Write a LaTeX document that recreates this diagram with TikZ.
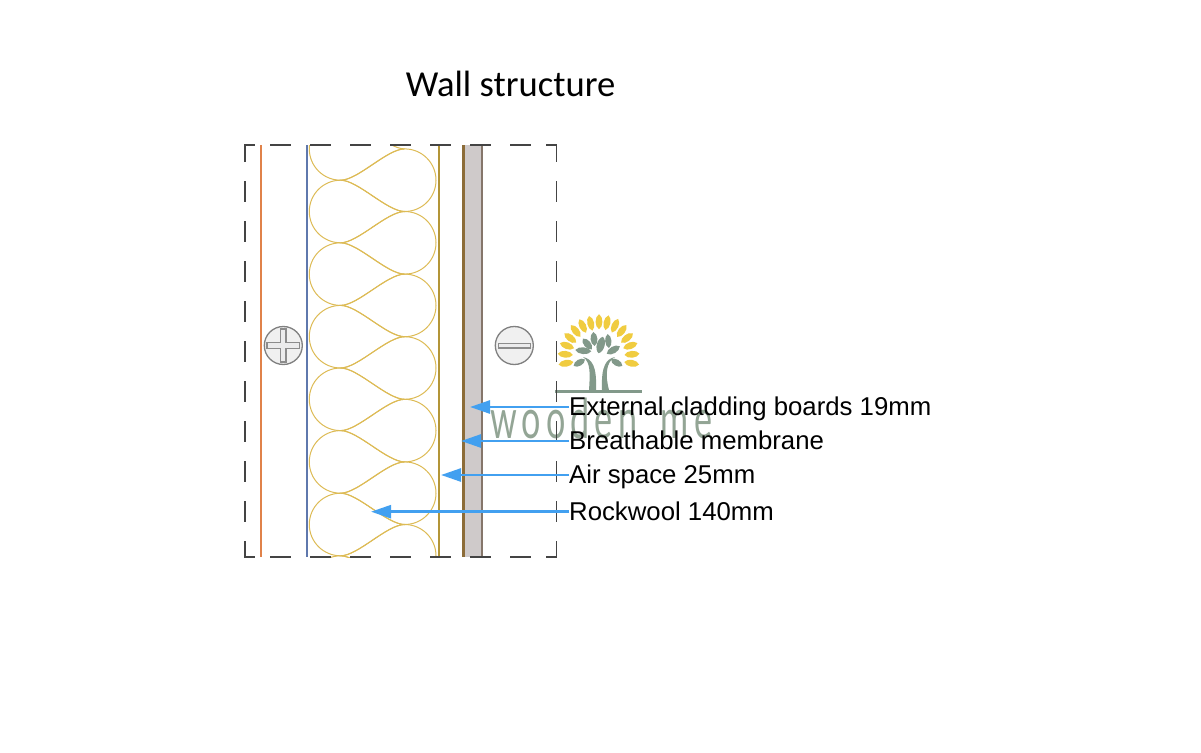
\documentclass[tikz,border=0pt]{standalone}
\usepackage{fontspec}
\setmainfont{Liberation Sans}
\newfontfamily\titlefont{Carlito}
\newfontfamily\markfont[LetterSpace=15]{Lato}
\usetikzlibrary{arrows.meta}
\definecolor{sunleaf}{HTML}{F0CC40}
\definecolor{sage}{HTML}{82998A}
\definecolor{markgreen}{HTML}{93A595}
\definecolor{wool}{HTML}{DDBB55}
\definecolor{callout}{HTML}{42A0F0}
\definecolor{boxline}{HTML}{444444}
\definecolor{plaster}{HTML}{E0824A}
\definecolor{vapour}{HTML}{5F78AD}
\definecolor{woolface}{HTML}{B39538}
\definecolor{membrane}{HTML}{8C6C38}
\definecolor{boardface}{HTML}{85766A}
\definecolor{board}{HTML}{CFCACA}
\newcommand{\lf}[6]{\fill[#6,shift={(#1,#2)},rotate=#3] (-#4/2,0) .. controls (-#4/3,#5*0.7) and (#4/3,#5*0.7) .. (#4/2,0) .. controls (#4/3,-#5*0.7) and (-#4/3,-#5*0.7) .. (-#4/2,0) -- cycle;}
\tikzset{
  x=1pt,y=-1pt,
  boxdash/.style={draw=boxline,line width=1.5pt},
  layer/.style={line width=2pt},
  screw/.style={draw=black!50,fill=black!6,line width=1.3pt},
  slot/.style={draw=black!45,fill=blue!8!black!8,line width=1.2pt},
  label/.style={font=\fontsize{25.75pt}{27pt}\selectfont,anchor=west,inner sep=0pt,text height=17.5pt,text depth=0pt},
  callarrow/.style={draw=callout,line width=2.6pt,-{Triangle[length=20pt,width=13pt]}}
}
\begin{document}
\begin{tikzpicture}
\useasboundingbox (0,0) rectangle (1201,752);
\fill[white] (0,0) rectangle (1201,752);
% title
\node[anchor=base,inner sep=0pt,font=\titlefont\fontsize{36.6pt}{38pt}\selectfont] (title) at (510.5,96) {Wall structure};
% layers
\fill[board] (465,145) rectangle (482,557);
\draw[layer,draw=plaster] (261,145) -- (261,557);
\draw[layer,draw=vapour] (306.7,145) -- (306.7,557);
\draw[layer,draw=woolface] (438.7,145) -- (438.7,557);
\draw[draw=membrane,line width=3.5pt] (463.7,145) -- (463.7,557);
\draw[draw=boardface,line width=2pt] (482,145) -- (482,557);
% insulation
\begin{scope}
\clip (245,145) rectangle (557,557);
\foreach \yl in {117.6,180.2,242.8,305.4,368,430.6,493.2,555.8} {
  \pgfmathsetmacro{\yb}{\yl+62.6}
  \pgfmathsetmacro{\ym}{\yl+31.3}
  % left-hand teardrop
  \draw[wool,line width=1pt] (404.7,\ym) .. controls (387,\ym) and (358,\yl) .. (340.6,\yl)
     .. controls (323.3,\yl) and (309.3,\ym-17.3) .. (309.3,\ym)
     .. controls (309.3,\ym+17.3) and (323.3,\yb) .. (340.6,\yb)
     .. controls (358,\yb) and (387,\ym) .. (404.7,\ym);
  % right-hand teardrop
  \draw[wool,line width=1pt] (340.6,\yb) .. controls (358,\yb) and (387,\ym) .. (404.7,\ym)
     .. controls (422,\ym) and (436,\yb-17.3) .. (436,\yb)
     .. controls (436,\yb+17.3) and (422,\yb+31.3) .. (404.7,\yb+31.3)
     .. controls (387,\yb+31.3) and (358,\yb) .. (340.6,\yb);
}
\end{scope}
% screws
\draw[screw] (283.3,345.5) circle (19);
\draw[slot] (280.6,329) -- (286,329) -- (286,342.8) -- (299.5,342.8) -- (299.5,348.2) -- (286,348.2) -- (286,362) -- (280.6,362) -- (280.6,348.2) -- (267,348.2) -- (267,342.8) -- (280.6,342.8) -- cycle;
\draw[screw] (514.3,345.5) circle (19);
\draw[slot] (498.5,343.5) rectangle (530.5,348);
% logo
\foreach \a/\b/\c in {599/321.7/90,590.7/323.3/103,607/322.7/78,582.7/326/116,615/325.7/65,575.7/331/129,621.7/331/52,570.3/338/142,627/338/38,567/345.7/160,630.3/345.7/20,565.3/354.3/175,632/354.3/5,566/363.3/190,631.7/363.3/-10} {
  \lf{\a}{\b}{\c}{15}{6.5}{sunleaf}
}
\lf{594}{339}{95}{14}{6.5}{sage}
\lf{600.7}{345}{75}{17}{7.5}{sage}
\lf{608.3}{341}{95}{14}{6}{sage}
\lf{587.3}{344}{130}{14}{6.5}{sage}
\lf{613.3}{350}{30}{15}{6.5}{sage}
\lf{583.3}{350.7}{175}{16}{6.5}{sage}
\lf{579.3}{362.7}{30}{13}{6}{sage}
\lf{616.7}{362.7}{150}{13}{6}{sage}
\fill[sage] (555,389.5) rectangle (641.7,392.5);
\fill[sage] (589,390) .. controls (590,375) and (591,362) .. (583,357) .. controls (592,359) and (597,366) .. (596,390) -- cycle;
\fill[sage] (609,390) .. controls (605,375) and (606,362) .. (615,357) .. controls (606,359) and (601,366) .. (602,390) -- cycle;
% watermark
\node[anchor=base west,inner sep=0pt,text=markgreen] (mark) at (490,438) {\scalebox{0.62}[1]{\markfont\fontsize{55pt}{55pt}\selectfont wooden\hspace{16pt} me}};
% dashed outline
\foreach \xa in {270,310,350,390,430,470,510} {
  \draw[boxdash] (\xa,145) -- (\xa+21,145);
  \draw[boxdash] (\xa,557) -- (\xa+21,557);
}
\foreach \ya in {181,221,261,301,341,381,421,461,501} {
  \draw[boxdash] (245,\ya) -- (245,\ya+21);
  \draw[boxdash] (556.5,\ya) -- (556.5,\ya+21);
}
\draw[boxdash] (245,162) -- (245,145) -- (255,145);
\draw[boxdash] (546,145) -- (556.5,145) -- (556.5,162);
\draw[boxdash] (245,541) -- (245,557) -- (255,557);
\draw[boxdash] (546,557) -- (556.5,557) -- (556.5,541);
% labels
\node[label] (ext) at (569,407) {External cladding boards 19mm};
\node[label] (mem) at (569,441) {Breathable membrane};
\node[label] (air) at (569,475) {Air space 25mm};
\node[label] (roc) at (569,511.7) {Rockwool 140mm};
\coordinate (extT) at (470,407);
\coordinate (memT) at (461,441);
\coordinate (airT) at (441,475);
\coordinate (rocT) at (371,511.7);
\draw[callarrow] (ext.west) -- (extT);
\draw[callarrow] (mem.west) -- (memT);
\draw[callarrow] (air.west) -- (airT);
\draw[callarrow] (roc.west) -- (rocT);
\end{tikzpicture}
\end{document}
